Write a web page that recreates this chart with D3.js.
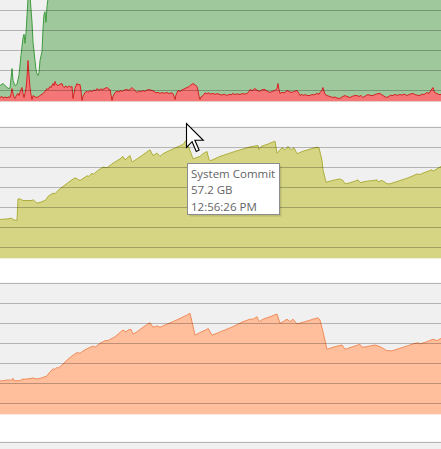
<!DOCTYPE html>
<html>
<head>
<meta charset="utf-8">
<script src="https://cdn.jsdelivr.net/npm/d3@7"></script>
<style>
  html, body { margin: 0; padding: 0; background: #fff; }
  svg { display: block; }
</style>
</head>
<body>
<svg id="graphs" width="441" height="449"></svg>
<script>
// samples are [seconds since window start, value]
const cpuTotal = [
  [0,12.1],[3,13.6],[5,12.1],[8,10],[10,10],[12,25],[13,16],[15,12],[17,13],[19,20],[21,35],[23,48],
  [24,51],[25,44],[26,52],[27,65],[28,78],[29,82],[30,80],[31,70],[32,60],[33,45],[35,31],[36,24],
  [37,21],[38,19.7],[39,22],[40,31],[42,38],[43,55],[44,66],[45,68],[46,60],[47,72],[48,78],[50,86],
  [100,92],[200,90],[300,93],[441,91]
];
const cpuKernel = [
  [0,3.0],[2,3.8],[3,2.6],[5,3.4],[7,2.8],[9,3.6],[10,3.0],[11,5.5],[12,9.8],[13,6],[14,3],[15,2.3],
  [16,4],[17,5.5],[18,6.1],[19,4.5],[20,7],[21,9],[22,10.6],[23,6],[24,3],[25,6],[26,9.8],[27,18],
  [28,31],[29,20],[30,10.6],[31,5],[32,1.5],[33,4.5],[35,3.5],[37,3],[39,4],[40,4.5],[42,5.5],[43,6.1],
  [45,7.5],[47,9.8],[48,9],[50,11.4],[51,10.5],[53,13.6],[54,12],[55,15.2],[56,13],[58,12.1],[60,13],
  [62,13.6],[63,11.5],[64,10.6],[66,11.8],[67,10.5],[69,11.8],[71,10.8],[72,11.4],[73,2.3],[74,6],
  [75,9.8],[76,12],[77,13.6],[78,12.5],[80,12.9],[81,8],[82,0.8],[83,4],[85,6.8],[87,7.8],[88,7],
  [90,8.3],[92,7.5],[94,8.8],[96,8.2],[97,9.8],[99,8.6],[101,9.5],[103,9.1],[105,10],[107,10.6],
  [109,9.2],[110,9.1],[111,5],[112,0.8],[113,4],[115,6.8],[117,7.8],[119,7.2],[120,8.3],[122,7.6],
  [124,8.6],[127,9.1],[129,8.4],[132,10.6],[134,9],[137,6.8],[139,8],[141,7.4],[143,8.3],[145,7.6],
  [147,8.8],[150,8.9],[152,8.3],[154,7.8],[156,6.5],[158,7],[160,6.1],[162,6.8],[164,6.2],[167,6.8],
  [169,6],[171,6.6],[173,6.1],[174,4],[175,1.5],[176,5],[178,8.3],[180,7.6],[182,8.8],[183,9.1],
  [185,9.8],[187,10.6],[189,11.2],[190,12.1],[192,13],[193,13.6],[195,12.5],[197,11.4],[198,8.3],
  [199,4],[200,1.5],[201,3.5],[203,4.5],[205,6.5],[207,5.8],[208,6.8],[210,5.6],[213,6.1],[215,5.4],
  [217,6],[220,5.3],[222,4.8],[224,5.6],[227,4.5],[229,5.5],[231,5],[233,6.1],[235,5.2],[237,5.8],
  [240,5.3],[242,6],[245,5.6],[247,6.1],[249,7.5],[250,9.1],[252,8.2],[255,9.8],[257,8.5],[260,7.6],
  [262,9],[265,9.1],[267,7.8],[270,6.8],[272,7.6],[275,8.3],[277,10],[278,13.6],[279,9],[280,6.1],
  [282,7],[284,6.5],[287,8.3],[289,7.5],[292,6.8],[294,7.6],[297,8.3],[299,6],[300,4.5],[302,5.5],
  [303,4.5],[305,5.2],[307,4.6],[310,4.5],[312,5.3],[314,5],[317,6.1],[319,5.5],[320,6.8],[322,8.5],
  [323,10.6],[324,8],[325,5.5],[327,4.5],[329,4],[331,3.5],[333,3.0],[335,3.4],[337,2.6],[340,2.3],
  [342,3.5],[345,4.5],[347,3.8],[350,3],[352,3.8],[354,4.4],[357,4.5],[359,3.8],[361,4.6],[363,3],
  [365,4],[368,5.3],[370,4.6],[373,4.5],[375,5.2],[377,5.8],[380,6.1],[382,5],[385,3.6],[387,3],
  [389,4],[391,4.8],[393,4.5],[395,5.4],[397,4.6],[400,5.3],[402,4.8],[404,5.6],[407,4.5],[409,5.2],
  [411,5.8],[413,6.1],[415,5.2],[417,4.8],[420,4.5],[422,5.6],[424,5.2],[427,6.8],[429,6.2],[431,8.5],
  [433,10.6],[434,8],[435,6.5],[437,6.1],[439,5.2],[441,5.3]
];
const commitGB = [
  [0,18.9],[7,19.2],[12,19.5],[13,18.8],[17,18.4],[18,28.9],[20,28.9],[23,28.1],[32,28.1],[33,28.5],
  [37,26.8],[42,27.5],[46,28.5],[48,30.1],[53,31.7],[55,31.4],[58,33.0],[63,34.9],[70,37.5],[75,39.1],
  [77,38.6],[80,37.8],[85,39.4],[87,40.1],[89,39.8],[92,41.4],[93,40.7],[98,42.7],[103,44.3],[107,44.0],
  [113,46.2],[120,48.3],[123,49.5],[125,47.8],[128,49.1],[130,49.9],[132,46.7],[137,48.3],[143,50.3],
  [150,52.7],[153,49.9],[157,51.1],[160,49.5],[163,50.8],[168,52.0],[177,54.0],[183,55.3],[186,57.2],
  [190,52.4],[193,48.3],[197,49],[200,49.5],[203,50.8],[207,51.9],[209,47.9],[211,47.5],[220,49.5],
  [235,51.9],[250,54.1],[258,54.8],[259,52.8],[261,54.3],[268,55.5],[275,56.9],[277,51.1],[282,53.7],
  [285,52.7],[288,54.3],[291,52.7],[294,53.7],[297,50.8],[303,52.0],[310,53.0],[317,54.0],[319,53.7],
  [322,47.5],[323,43.0],[326,37.0],[330,37.5],[335,38.1],[340,38.6],[343,37.8],[345,36.2],[350,36.7],
  [355,37.5],[358,38.1],[360,36.8],[367,37.5],[373,37.8],[377,38.1],[378,37.2],[382,37.8],[384,37.3],
  [387,36.2],[390,36.2],[395,37.0],[400,37.8],[407,38.9],[413,40.1],[417,41.0],[420,40.7],[423,41.4],
  [428,42.3],[432,43.0],[433,42.3],[437,43.5],[441,44.6]
];
const physicalGB = [
  [0,16.2],[7,16.7],[12,16.7],[13,17.5],[14,16.4],[20,16.4],[22,17.1],[27,17.2],[33,17.7],[37,17.2],
  [40,17.5],[43,18.0],[47,18.7],[50,20.7],[53,22.1],[55,21.9],[57,22.9],[58,22.4],[62,24.0],[67,26.4],
  [72,28.4],[77,30.0],[80,29.7],[83,30.8],[88,32.1],[93,33.2],[95,32.6],[100,34.5],[105,35.8],[108,35.8],
  [115,37.7],[123,41.0],[126,40.0],[128,41.0],[131,41.3],[133,39.0],[137,40.1],[143,42.3],[150,44.5],
  [153,42.3],[157,42.9],[160,42.3],[165,43.4],[173,45.0],[180,46.6],[187,48.2],[190,49.1],[195,38.5],
  [200,39.7],[207,41.3],[208,41.8],[212,38.5],[217,39.4],[233,42.6],[243,45.0],[250,46.2],[253,46.2],
  [257,47.4],[259,45.0],[263,46.2],[270,47.4],[277,48.7],[280,44.2],[283,45.0],[287,46.2],[290,45.0],
  [293,46.2],[297,43.9],[305,45.0],[313,46.2],[318,46.9],[320,45.8],[323,40.1],[327,31.6],[333,32.6],
  [342,33.7],[345,31.6],[353,32.9],[360,34.0],[362,32.6],[367,32.9],[375,33.7],[380,32.9],[387,30.9],
  [392,30.9],[400,32.1],[407,33.2],[413,34.2],[418,34.8],[420,34.2],[427,35.3],[433,36.5],[437,35.8],
  [441,36.9]
];
const tooltipLines = ["System Commit", "57.2 GB", "12:56:26 PM"];
const hoverTime = 186;

const svg = d3.select("#graphs");
const width = +svg.attr("width");
const panelH = 132, gridStep = 20;
const x = d3.scaleLinear().domain([0, 441]).range([0, width]);

const panels = [
  { top: -30.5, max: 100, series: [
      { data: cpuTotal, fill: "#9fc99d", stroke: "#3f9b3f" },
      { data: cpuKernel, fill: "#f57676", stroke: "#d42424" } ] },
  { top: 126.5, max: 64, series: [ { data: commitGB, fill: "#d5d583", stroke: "#aeae3c" } ] },
  { top: 282.5, max: 64, series: [ { data: physicalGB, fill: "#ffbf9c", stroke: "#f08c5a" } ] },
  { top: 441.5, max: 64, series: [] }
];

panels.forEach((p, i) => {
  const y = d3.scaleLinear().domain([0, p.max]).range([p.top + panelH, p.top]);
  const g = svg.append("g");

  g.append("clipPath").attr("id", "clip" + i)
    .append("rect").attr("x", 0).attr("y", p.top).attr("width", width).attr("height", panelH);

  g.append("rect").attr("x", 0).attr("y", p.top).attr("width", width).attr("height", panelH)
    .attr("fill", "#f0f0f0");

  const area = d3.area().x(d => x(d[0])).y0(y(0)).y1(d => y(d[1]));
  const line = d3.line().x(d => x(d[0])).y(d => y(d[1]));
  const plot = g.append("g").attr("clip-path", `url(#clip${i})`);
  p.series.forEach(s => {
    plot.append("path").datum(s.data).attr("d", area).attr("fill", s.fill);
    plot.append("path").datum(s.data).attr("d", line)
      .attr("fill", "none").attr("stroke", s.stroke).attr("stroke-width", 1);
  });

  // grid lines run every 20px from the panel top
  const gridVals = d3.range(0, panelH, gridStep).map(off => y.invert(p.top + off));
  const grid = d3.axisRight(y).tickValues(gridVals).tickSize(width).tickFormat("");
  g.append("g").call(grid)
    .call(a => a.select(".domain").remove())
    .selectAll("line").attr("stroke", "rgba(0,0,0,0.25)").attr("shape-rendering", "crispEdges");
});

// hover tooltip
const tip = svg.append("g").attr("transform", "translate(187.5,163.5)");
tip.append("rect").attr("x", 2).attr("y", 2).attr("width", 92).attr("height", 51)
  .attr("fill", "rgba(0,0,0,0.12)");
tip.append("rect").attr("width", 92).attr("height", 51)
  .attr("fill", "#fff").attr("stroke", "#8c8c8c");
tip.selectAll("text").data(tooltipLines).join("text")
  .attr("x", 3.5).attr("y", (d, i) => 14.5 + i * 16.3)
  .attr("font-family", "'Open Sans', 'Noto Sans', sans-serif").attr("font-size", 11.5)
  .attr("fill", "#646464").text(d => d);

// mouse pointer at the hovered sample
const cursor = svg.append("g").attr("transform", `translate(${x(hoverTime) + 0.5},123.5) scale(1.4)`);
cursor.append("path").attr("d", "M0,0 L0,17 L4,13 L7,20 L9,19 L6,12 L12,12 Z")
  .attr("fill", "#fff").attr("stroke", "#000").attr("stroke-width", 0.8).attr("stroke-linejoin", "miter");
</script>
</body>
</html>
